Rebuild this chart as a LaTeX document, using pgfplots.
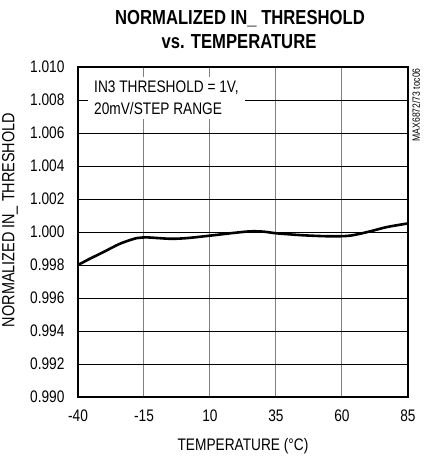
\documentclass[border=0pt]{standalone}
\usepackage{fontspec}
\setmainfont{Liberation Sans}[FakeStretch=0.82]
\usepackage{pgfplots}
\pgfplotsset{compat=1.18}

\begin{document}
\begin{tikzpicture}
\newcommand{\lblfont}{\fontsize{16.7bp}{20bp}\selectfont}
\begin{axis}[
  name=ax,
  at={(0,0)}, anchor=south west,
  scale only axis,
  width=330bp, height=330bp,
  xmin=-40, xmax=85,
  ymin=0.990, ymax=1.010,
  xtick={-40,-15,10,35,60,85},
  xticklabels={-40,-15,10,35,60,85},
  ytick={0.990,0.992,0.994,0.996,0.998,1.000,1.002,1.004,1.006,1.008,1.010},
  yticklabels={0.990,0.992,0.994,0.996,0.998,1.000,1.002,1.004,1.006,1.008,1.010},
  major tick length=0pt,
  tick style={draw=none},
  grid=major,
  x grid style={draw=black!50, line width=1bp},
  y grid style={draw=black, line width=0.8bp},
  axis line style={line width=2.6bp},
  xticklabel style={font=\lblfont, yshift=-9bp},
  yticklabel style={font=\lblfont, xshift=-10bp},
]
\addplot [black, line width=2.6bp, smooth, tension=0.5]
coordinates {
(-40,0.99800) (-35.5,0.99838) (-30.4,0.99878) (-24.1,0.99929)
(-17.8,0.99963) (-14.6,0.99968) (-5.1,0.99959) (1.2,0.99963)
(10.1,0.99978) (17.6,0.99992) (25.2,1.00004) (30.3,1.00002)
(35.3,0.99992) (45.4,0.99980) (55.5,0.99974) (63.1,0.99978)
(70.7,1.00004) (77,1.00030) (85,1.00052)
};
\node [fill=white, anchor=north west, align=left, inner xsep=6bp, inner ysep=4bp,
       font=\fontsize{16.7bp}{21.7bp}\selectfont]
  at (rel axis cs:0,1) [xshift=10bp, yshift=-10bp]
  {IN3 THRESHOLD = 1V,\\20mV/STEP RANGE};
\end{axis}
\node [anchor=base, font=\bfseries\fontsize{20.3bp}{24bp}\selectfont]
  at ([xshift=-3bp, yshift=42bp]ax.north) {NORMALIZED IN\_ THRESHOLD};
\node [anchor=base, font=\bfseries\fontsize{20.3bp}{24bp}\selectfont]
  at ([xshift=-4bp, yshift=18.7bp]ax.north) {vs. TEMPERATURE};
\node [anchor=base, font=\lblfont]
  at ([yshift=-53bp]ax.south) {TEMPERATURE (°C)};
\node [anchor=center, rotate=90, font=\fontsize{17.6bp}{20bp}\selectfont]
  at ([xshift=-68bp, yshift=12bp]ax.west) {NORMALIZED IN\_ THRESHOLD};
\node [anchor=east, rotate=90, inner sep=0pt, font=\fontsize{10.5bp}{12bp}\selectfont]
  at ([xshift=8bp, yshift=-1bp]ax.north east) {MAX6872/73 toc06};
\pgfresetboundingbox
\path[use as bounding box] (-78bp,-64bp) rectangle (358bp,397bp);
\end{tikzpicture}
\end{document}
